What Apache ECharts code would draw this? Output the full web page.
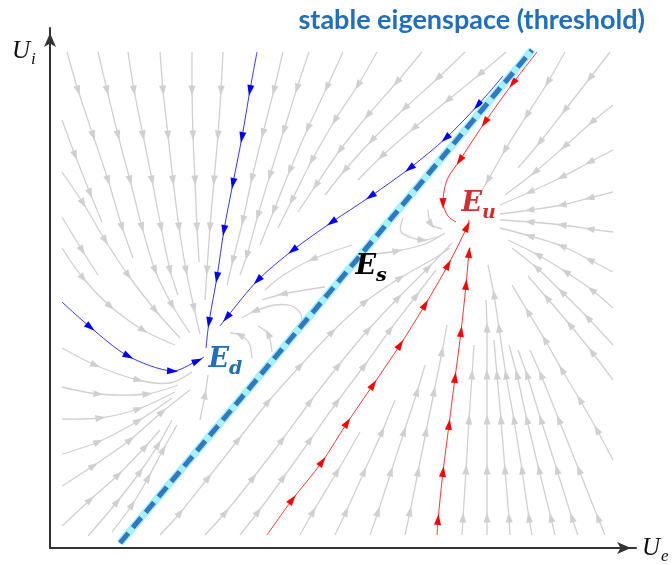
<!DOCTYPE html>
<html>
<head>
<meta charset="utf-8">
<style>html,body{margin:0;padding:0;background:#fff}</style>
</head>
<body>
<div id="chart" style="width:672px;height:565px"></div>
<script src="https://cdn.jsdelivr.net/npm/echarts@6/dist/echarts.min.js"></script>
<script>
// phase plane (U_e, U_i); [x, y, 1] = arrow drawn at that point
const greyLines = [
  // from the top, down to E_d
  [[17,496],[28,458,1],[43,413,1],[58,368,1],[72,321,1],[83,290]],
  [[48,496],[57,458,1],[68,413,1],[80,368,1],[92,321,1],[105,278,1],[122,243,1],[140,215]],
  [[78,496],[84,458,1],[93,413,1],[102,368,1],[111,321,1],[120,278,1],[128,253]],
  [[110,496],[113,458,1],[118,413,1],[123,368,1],[129,321,1],[136,278,1],[144,240,1],[150,214]],
  [[142,496],[142,458,1],[143,413,1],[145,368,1],[147,321,1],[149,286]],
  [[173,496],[171,458,1],[168,413,1],[164,368,1],[160,321,1],[157,278,1],[155,248]],
  // from the left edge
  [[12,428],[25,393,1],[40,355,1],[52,326]],
  [[12,376],[33,345,1],[55,308,1],[78,273,1],[105,238,1],[130,210]],
  [[12,331],[32,298,1],[48,273]],
  [[12,300],[33,270,1],[60,242,1],[93,218,1],[125,203]],
  [[12,200],[45,183,1],[88,168,1],[120,165],[142,176]],
  [[12,161],[48,154,1],[97,154,1],[128,163]],
  [[12,129],[50,130,1],[88,139,1],[125,156]],
  [[12,94],[48,106,1],[88,127,1],[122,150]],
  [[12,62],[43,82,1],[80,108,1],[112,136,1],[140,158]],
  [[12,22],[40,48,1],[68,73,1],[95,101,1],[110,118]],
  [[38,12],[67,46,1],[90,76,1],[108,103,1],[122,128]],
  [[62,16],[82,43,1],[98,70,1],[113,98,1],[127,123]],
  [[150,128],[155,153,1],[158,173]],
  // upper middle, down-left
  [[233,496],[224,458,1],[213,415,1],[202,370,1],[193,328,1],[183,288,1],[177,263]],
  [[259,496],[247,460,1],[234,418,1],[220,373,1],[208,333,1],[197,293,1],[190,273]],
  [[293,496],[277,461,1],[258,420,1],[240,378,1],[224,338,1],[210,303]],
  [[327,496],[308,463,1],[285,428,1],[262,388,1],[242,348,1],[228,320]],
  [[372,496],[347,466,1],[318,433,1],[290,398,1],[266,363,1],[248,336]],
  [[415,496],[388,470,1],[355,440,1],[322,408,1],[295,378,1],[275,353]],
  [[456,496],[430,474,1],[398,448,1],[364,420,1],[332,392,1],[308,368]],
  // near the saddle
  [[302,303],[263,289,1],[232,272],[215,258]],
  [[275,261],[233,254,1],[212,248]],
  [[252,218],[251,234],[242,242],[225,243],[205,237,1],[192,230]],
  [[222,196],[218,214,1],[208,222]],
  [[202,190],[199,205],[190,213,1],[180,215]],
  [[315,293],[347,297,1],[375,304],[395,315]],
  [[353,330],[351,316],[372,308,1],[390,312]],
  [[378,338],[381,324,1],[392,319]],
  // right of the threshold, up to E_u
  [[110,13],[130,35,1],[158,70,1],[188,108,1],[218,146,1],[250,182,1],[282,216,1],[315,246,1],[350,270,1],[385,290],[400,300]],
  [[155,13],[175,35,1],[203,70,1],[232,108,1],[260,146,1],[288,182,1],[318,218,1],[348,250,1],[378,280,1],[402,305]],
  [[190,13],[208,36,1],[233,70,1],[260,108,1],[287,146,1],[314,182,1],[340,218,1],[366,252,1],[386,278]],
  [[250,13],[263,36,1],[287,76,1],[310,116]],
  [[285,13],[296,36,1],[314,76,1],[332,116,1],[345,148]],
  [[320,13],[328,36,1],[341,76,1],[354,116,1],[367,156,1],[375,183]],
  [[355,13],[360,36,1],[368,76,1],[376,116,1],[384,156,1],[392,196,1],[397,223]],
  [[412,13],[413,30,1],[416,78,1],[419,128,1],[422,173,1],[424,203]],
  [[437,13],[437,30,1],[437,78,1],[437,128,1],[437,173,1],[437,220,1],[436,248]],
  [[460,13],[459,30,1],[455,78,1],[451,128,1],[447,173,1],[444,208]],
  [[482,13],[479,30,1],[472,78,1],[464,128,1],[456,173,1],[449,220,1],[444,253,1],[438,283]],
  [[505,13],[501,30,1],[489,78,1],[477,128,1],[467,173,1],[459,203]],
  [[528,13],[522,30,1],[507,78,1],[491,128,1],[477,173,1],[468,198]],
  [[555,13],[548,30,1],[529,78,1],[509,128,1],[491,173,1],[480,198]],
  // top right and right edge, into E_u
  [[515,496],[498,466,1],[477,433,1],[455,398,1],[438,368,1],[426,348]],
  [[560,496],[540,470,1],[515,438,1],[490,406,1],[468,380]],
  [[563,443],[542,426,1],[515,402,1],[485,376,1],[455,353]],
  [[563,398],[540,386,1],[512,371,1],[480,356,1],[450,343]],
  [[563,356],[540,350,1],[512,343,1],[480,338,1],[450,334]],
  [[563,316],[540,319,1],[512,323,1],[480,326,1],[450,328]],
  [[563,276],[540,288,1],[512,302,1],[480,312,1],[450,320]],
  [[563,240],[542,258,1],[516,276,1],[488,293,1],[458,308]],
  [[563,203],[538,230,1],[512,256,1],[487,280,1],[462,300]],
  [[563,168],[542,196,1],[520,223,1],[497,250,1],[478,272]],
  [[563,88],[547,118,1],[530,148,1],[512,178,1],[495,208,1],[478,236,1],[462,263]]
];
const blueLines = [
  [[207,496],[200,458,1],[192,411,1],[183,365,1],[174,318,1],[167,271,1],[159,226,1],[156,200]],
  [[453,472],[428,443,1],[396,410,1],[360,380,1],[321,352,1],[282,326,1],[243,298,1],[208,268,1],[177,231,1],[170,222]],
  [[12,246],[40,221,1],[78,192,1],[122,177,1],[147,187,1],[154,191]]
];
const redLines = [
  [[487,496],[463,465,1],[435,426,1],[410,388,1],[397,368],[393,345,1],[398,332],[406,326]],
  [[217,13],[242,48,1],[272,86,1],[297,125,1],[323,163,1],[350,203,1],[375,243,1],[398,283,1],[417,321,1],[419,328]],
  [[387,13],[388,28,1],[393,76,1],[399,123,1],[405,170,1],[411,216,1],[416,263,1],[419,295,1],[420,300]]
];
const threshold = [[70,5],[482,498]];
const fixedPoints = [
  {name: 'd', value: [158,186], color: '#1f6ebf'},
  {name: 'u', value: [411,342], color: '#d12e2e'},
  {name: 's', value: [305,279], color: '#000000'}
];

var myChart = echarts.init(document.getElementById('chart'));

function flow(lines, color, width, head) {
  return function (params, api) {
    const line = lines[api.value(2)];
    const pts = line.map(p => api.coord([p[0], p[1]]));
    const kids = [{
      type: 'polyline',
      shape: {points: pts, smooth: 0.3},
      style: {stroke: color, lineWidth: width, fill: null}
    }];
    line.forEach((p, k) => {
      if (p[2] !== 1) return;
      const a = pts[k - 1], b = pts[k + 1], c = pts[k];
      let dx = b[0] - a[0], dy = b[1] - a[1];
      const n = Math.hypot(dx, dy);
      dx /= n; dy /= n;
      const L = head[0], W = head[1] / 2;
      const bx = c[0] - dx * L * 0.45, by = c[1] - dy * L * 0.45;
      kids.push({
        type: 'polygon',
        shape: {points: [
          [c[0] + dx * L * 0.55, c[1] + dy * L * 0.55],
          [bx - dy * W, by + dx * W],
          [bx + dy * W, by - dx * W]
        ]},
        style: {fill: color}
      });
    });
    return {type: 'group', children: kids};
  };
}

function flowSeries(lines, color, width, head, z) {
  return {
    type: 'custom',
    renderItem: flow(lines, color, width, head),
    data: lines.map((l, i) => [l[0][0], l[0][1], i]),
    encode: {x: 0, y: 1},
    clip: false,
    silent: true,
    z: z
  };
}

const eFont = {fontFamily: 'DejaVu Serif', fontStyle: 'italic', fontWeight: 'bold'};
const uRich = {
  u: {fontFamily: 'Liberation Serif', fontStyle: 'italic', fontSize: 25, lineHeight: 25, verticalAlign: 'top', fill: '#111'},
  s: {fontFamily: 'Liberation Serif', fontStyle: 'italic', fontSize: 17, lineHeight: 17, padding: [12, 0, 0, 1], verticalAlign: 'top', fill: '#111'}
};

let option = {
  animation: false,
  grid: {left: 50, right: 36, top: 28, bottom: 17},
  xAxis: {
    type: 'value', min: 0, max: 586,
    axisLine: {show: true, lineStyle: {color: '#333', width: 2}, symbol: ['none', 'arrow'], symbolSize: [9, 14], symbolOffset: [0, -5]},
    axisTick: {show: false}, axisLabel: {show: false}, splitLine: {show: false}
  },
  yAxis: {
    type: 'value', min: 0, max: 520,
    axisLine: {show: true, lineStyle: {color: '#333', width: 2}, symbol: ['none', 'arrow'], symbolSize: [9, 14], symbolOffset: [0, -5]},
    axisTick: {show: false}, axisLabel: {show: false}, splitLine: {show: false}
  },
  graphic: [
    {type: 'text', right: 27, top: 7, style: {text: 'stable eigenspace (threshold)', font: 'bold 27px Lato', fill: '#1f6ebf'}},
    {type: 'text', left: 12, top: 39, style: {text: '{u|U}{s|i}', rich: uRich}},
    {type: 'text', left: 642, top: 536, style: {text: '{u|U}{s|e}', rich: uRich}}
  ],
  series: [
    flowSeries(greyLines, '#d0d0d0', 1.3, [10, 7], 1),
    flowSeries(blueLines, '#0000ff', 0.8, [11, 7], 3),
    flowSeries(redLines, '#ff0000', 0.8, [11, 7], 3),
    {
      type: 'line', data: threshold, symbol: 'none', silent: true, z: 4,
      lineStyle: {color: '#a6f2f6', width: 8, cap: 'butt'}
    },
    {
      type: 'line', data: threshold, symbol: 'none', silent: true, z: 5,
      lineStyle: {color: '#2f78c4', width: 5, type: [13, 7], cap: 'butt'}
    },
    {
      type: 'scatter', symbolSize: 1, silent: true, z: 6,
      itemStyle: {color: 'rgba(0,0,0,0)', opacity: 1},
      data: fixedPoints.map(p => ({
        value: p.value,
        label: {
          show: true, position: 'right', distance: 0, opacity: 1,
          formatter: '{e|E}{s|' + p.name + '}',
          rich: {
            e: Object.assign({fontSize: 27, lineHeight: 31, verticalAlign: 'top', color: p.color}, eFont),
            s: Object.assign({fontSize: 19, lineHeight: 21, padding: [13, 0, 0, 0], verticalAlign: 'top', color: p.color}, eFont)
          }
        }
      }))
    }
  ]
};
myChart.setOption(option);
</script>
</body>
</html>
